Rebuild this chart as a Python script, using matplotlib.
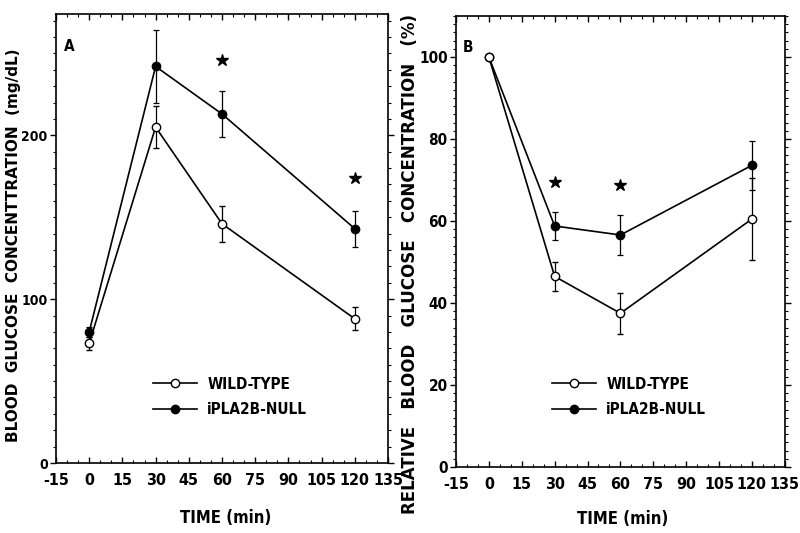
import numpy as np
import matplotlib
matplotlib.use("Agg")
import matplotlib.pyplot as plt
from matplotlib.lines import Line2D
from matplotlib.ticker import MultipleLocator

plt.rcParams["axes.unicode_minus"] = False

# panel A: absolute blood glucose (mg/dL)
time = [0, 30, 60, 120]
wt_abs = [73, 205, 146, 88]
wt_abs_err = [4, 13, 11, 7]
ko_abs = [80, 242, 213, 143]
ko_abs_err = [3, 22, 14, 11]
star_abs_t = [60, 120]
star_abs_y = [246, 174]

# panel B: relative blood glucose (%)
wt_rel = [100, 46.5, 37.5, 60.5]
wt_rel_err = [0, 3.5, 5, 10]
ko_rel = [100, 58.8, 56.6, 73.6]
ko_rel_err = [0, 3.3, 5, 6]
star_rel_t = [30, 60]
star_rel_y = [69.5, 68.8]

labels = ["WILD-TYPE", "iPLA2B-NULL"]
xticks = [-15, 0, 15, 30, 45, 60, 75, 90, 105, 120, 135]

narrow = dict(family="DejaVu Sans", stretch="condensed", weight="bold")

fig = plt.figure(figsize=(8, 5.33), dpi=100)
axA = fig.add_axes([0.07, 0.1313, 0.415, 0.8424])
axB = fig.add_axes([0.57, 0.1238, 0.411, 0.846])


def draw_panel(ax, wt, wt_err, ko, ko_err, st_t, st_y):
    ax.errorbar(time, ko, yerr=ko_err, color="black", lw=1.2, elinewidth=0.9,
                capsize=2, capthick=0.9, marker="o", ms=6, mfc="black",
                mec="black", zorder=3)
    ax.errorbar(time, wt, yerr=wt_err, color="black", lw=1.2, elinewidth=0.9,
                capsize=2, capthick=0.9, marker="o", ms=6, mfc="white",
                mec="black", mew=1, zorder=4)
    ax.plot(st_t, st_y, ls="none", marker="*", ms=9, color="black")

    ax.set_xlim(-15, 135)
    ax.set_xticks(xticks)
    ax.xaxis.set_minor_locator(MultipleLocator(5))
    ax.tick_params(axis="x", which="both", direction="in", top=True)
    ax.tick_params(axis="y", which="both", direction="out", right=True)
    ax.tick_params(which="major", length=4, width=1)
    ax.tick_params(which="minor", length=2, width=0.8)
    ax.tick_params(axis="x", pad=7)
    ax.tick_params(axis="y", pad=2)
    for lab in ax.get_xticklabels():
        lab.set(fontsize=11.5, **narrow)
    for sp in ax.spines.values():
        sp.set_linewidth(1.2)

    handles = [
        Line2D([], [], color="black", lw=1.2, marker="o", ms=6, mfc="white", mec="black"),
        Line2D([], [], color="black", lw=1.2, marker="o", ms=6, mfc="black", mec="black"),
    ]
    ax.legend(handles, labels, loc="center left", frameon=False,
              borderpad=0, borderaxespad=0, handlelength=2.9,
              handletextpad=0.65, labelspacing=0.7,
              prop=dict(size=11, **narrow))


draw_panel(axA, wt_abs, wt_abs_err, ko_abs, ko_abs_err, star_abs_t, star_abs_y)
axA.set_ylim(0, 274)
axA.set_yticks([0, 100, 200])
axA.yaxis.set_minor_locator(MultipleLocator(10))
for lab in axA.get_yticklabels():
    lab.set(fontsize=10, **narrow)
axA.get_legend().set_bbox_to_anchor((0.292, 0.147), transform=axA.transAxes)
axA.set_ylabel("BLOOD  GLUCOSE  CONCENTTRATION  (mg/dL)", family="DejaVu Sans",
               fontweight="bold", fontsize=11)
axA.yaxis.set_label_coords(-0.106, 0.486)
axA.set_xlabel("TIME (min)", fontsize=12, **narrow)
axA.xaxis.set_label_coords(0.512, -0.102)
axA.text(0.039, 0.927, "A", transform=axA.transAxes, fontsize=11,
         ha="center", va="center", **narrow)

draw_panel(axB, wt_rel, wt_rel_err, ko_rel, ko_rel_err, star_rel_t, star_rel_y)
axB.set_ylim(0, 110)
axB.set_yticks([0, 20, 40, 60, 80, 100])
axB.yaxis.set_minor_locator(MultipleLocator(2))
for lab in axB.get_yticklabels():
    lab.set(fontsize=11, **narrow)
axB.get_legend().set_bbox_to_anchor((0.292, 0.155), transform=axB.transAxes)
axB.set_ylabel("RELATIVE   BLOOD   GLUCOSE   CONCENTRATION   (%)",
               family="DejaVu Sans", fontweight="bold", fontsize=12)
axB.yaxis.set_label_coords(-0.113, 0.45)
axB.set_xlabel("TIME (min)", fontsize=12, **narrow)
axB.xaxis.set_label_coords(0.508, -0.095)
axB.text(0.036, 0.931, "B", transform=axB.transAxes, fontsize=11,
         ha="center", va="center", **narrow)

fig.savefig("out.png", dpi=100)
